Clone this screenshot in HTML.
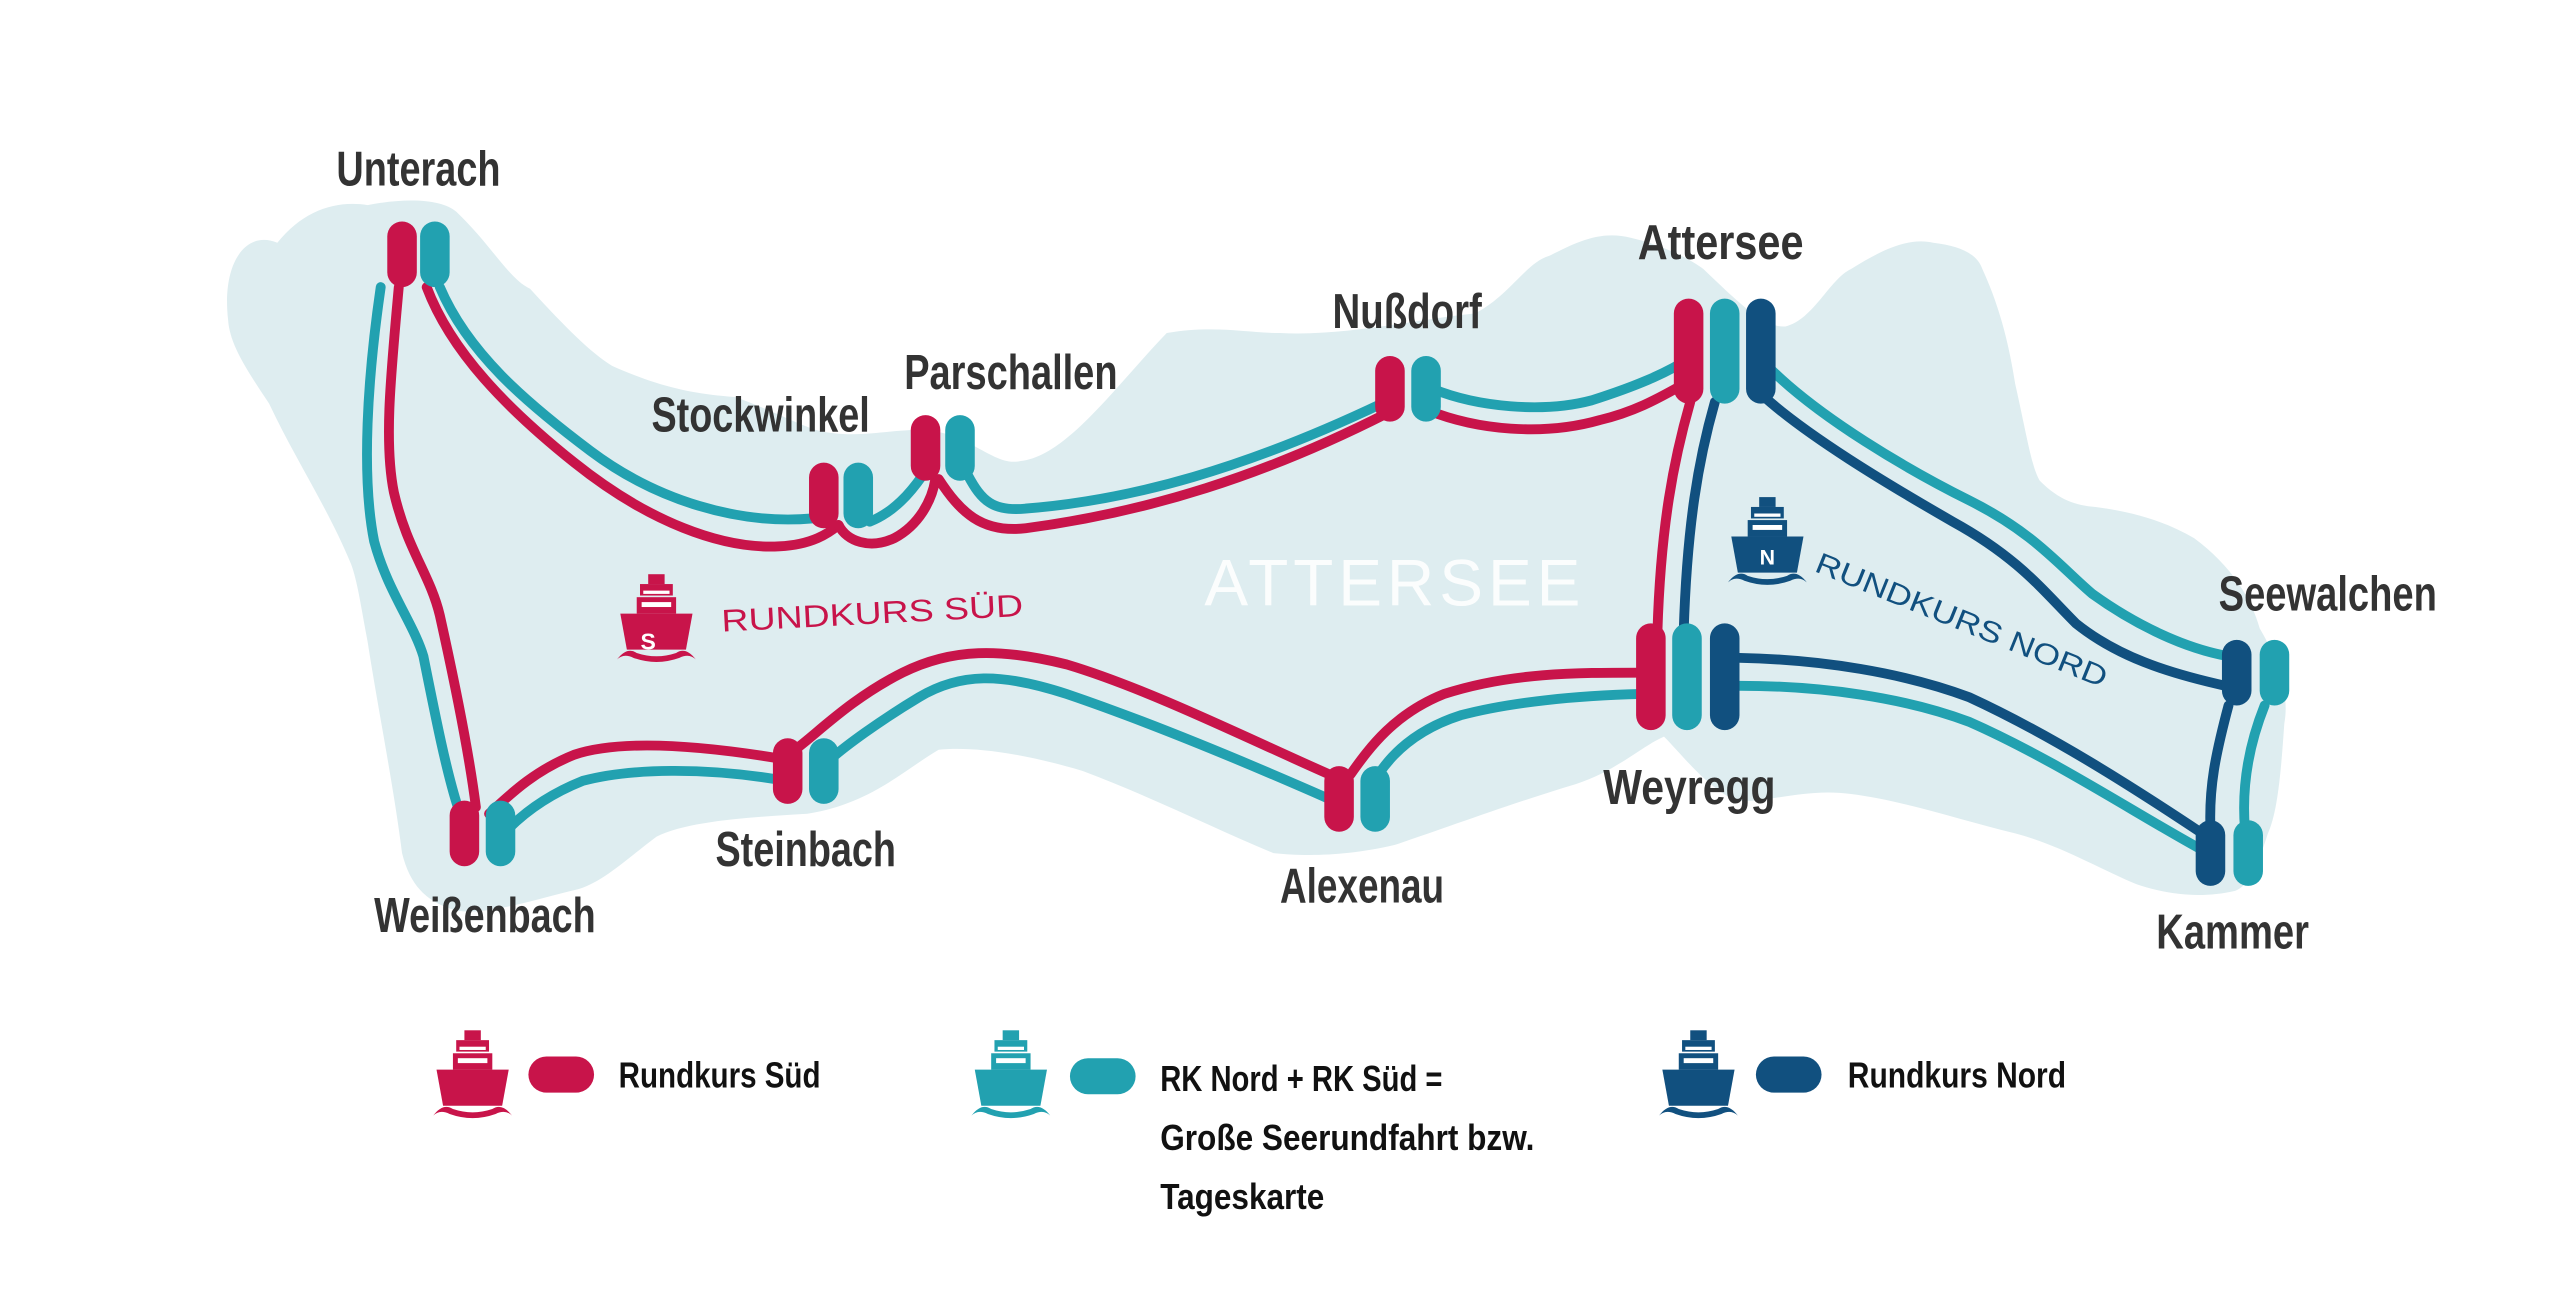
<!DOCTYPE html>
<html><head><meta charset="utf-8"><style>
html,body{margin:0;padding:0;background:#fff;}
svg{display:block;}
.lb{font-family:"Liberation Sans Narrow","Liberation Sans",sans-serif;font-weight:bold;fill:#333;font-size:30px;}
.lg{font-family:"Liberation Sans Narrow","Liberation Sans",sans-serif;font-weight:bold;fill:#111;font-size:22px;}
</style></head><body>
<svg width="2560" height="1301" viewBox="0 0 1560 793" preserveAspectRatio="none" xmlns="http://www.w3.org/2000/svg">
<defs>
<g id="ship">
<rect x="-5" y="-30" width="10" height="6"/>
<rect x="-10" y="-24" width="20" height="7"/>
<rect x="-8" y="-20" width="16" height="2" fill="#fff"/>
<rect x="-12" y="-16" width="24" height="10"/>
<rect x="-9" y="-13" width="18" height="3" fill="#fff"/>
<path d="M-22,-6 L22,-6 L18,16 L-18,16 Z"/>
<path d="M-24,22 Q-18,14 -12,18 Q0,22 12,18 Q18,14 24,22 Q20,18 14,21 Q0,26 -14,21 Q-20,18 -24,22 Z"/>
</g>
</defs>
<!-- lake -->
<path fill="#deedf0" d="M139,195 C135,160 150,140 169,148 C185,128 205,122 224,125 C250,120 270,122 278,129 C300,150 310,170 323,176 C345,200 360,215 373,223 C400,235 420,240 448,242 C470,250 485,258 497,262 C520,268 540,262 560,262 C590,262 605,285 622,281 C650,278 680,235 711,203 C740,198 760,203 780,203 C820,205 860,195 899,191 C920,180 930,160 944,156 C960,148 975,140 994,145 C1015,150 1030,158 1038,164 C1060,185 1075,200 1088,199 C1105,195 1115,170 1128,164 C1150,150 1165,145 1178,148 C1195,150 1205,155 1208,164 C1220,190 1225,215 1228,234 C1235,265 1238,285 1243,293 C1255,305 1265,308 1277,309 C1300,312 1320,318 1337,328 C1360,345 1372,365 1377,383 C1390,405 1395,425 1392,441 C1390,470 1388,495 1382,508 C1375,530 1370,540 1362,543 C1340,548 1320,545 1302,539 C1280,530 1255,515 1228,508 C1195,500 1160,488 1128,484 C1100,480 1075,490 1058,488 C1040,480 1025,460 1014,449 C1000,455 985,470 960,478 C920,490 880,505 850,515 C820,522 795,522 776,520 C740,505 700,485 660,470 C620,458 590,455 572,457 C550,470 530,490 492,496 C460,498 420,500 400,510 C380,525 365,540 348,543 C320,550 295,558 278,555 C260,550 250,540 245,520 C240,480 230,430 224,391 C220,370 218,355 214,344 C200,310 180,280 164,246 C150,225 140,210 139,195 Z"/>
<text x="850" y="369" text-anchor="middle" fill="#fff" font-family="Liberation Sans,sans-serif" font-size="40" letter-spacing="3" opacity="0.9">ATTERSEE</text>
<g fill="none" stroke-width="6" stroke-linecap="round">
<!-- Unterach - Weissenbach -->
<path stroke="#c8144a" d="M243,175 C238,230 234,270 240,300 C248,335 262,350 268,375 C278,420 286,460 290,492"/>
<path stroke="#22a1b0" d="M232,175 C224,230 220,290 228,330 C236,360 252,380 258,400 C266,440 272,470 279,492"/>
<!-- Unterach - Stockwinkel -->
<path stroke="#22a1b0" d="M268,175 C285,215 320,245 360,275 C400,305 450,320 495,316"/>
<path stroke="#c8144a" d="M260,175 C275,215 310,250 350,282 C395,318 440,335 475,333 C495,332 505,325 511,320"/>
<!-- Stockwinkel - Parschallen -->
<path stroke="#22a1b0" d="M530,318 C545,312 555,300 562,290"/>
<path stroke="#c8144a" d="M511,320 C516,330 530,335 545,328 C560,320 568,305 570,292"/>
<!-- Parschallen - Nussdorf -->
<path stroke="#22a1b0" d="M590,290 C598,305 605,312 625,310 C690,305 760,285 842,246"/>
<path stroke="#c8144a" d="M572,292 C585,312 598,325 625,322 C700,312 770,290 845,252"/>
<!-- Nussdorf - Attersee -->
<path stroke="#22a1b0" d="M873,237 C900,248 940,252 970,244 C995,236 1015,228 1030,218"/>
<path stroke="#c8144a" d="M870,250 C900,262 940,266 975,256 C1000,250 1015,240 1030,232"/>
<!-- Attersee - Weyregg -->
<path stroke="#c8144a" d="M1030,245 C1020,280 1012,320 1010,385"/>
<path stroke="#11507f" d="M1045,245 C1035,280 1028,320 1026,385"/>
<!-- Attersee - Seewalchen -->
<path stroke="#22a1b0" d="M1080,226 C1110,255 1160,285 1200,305 C1240,325 1255,345 1275,362 C1300,380 1330,395 1358,400"/>
<path stroke="#11507f" d="M1073,240 C1100,265 1150,295 1190,318 C1230,340 1245,360 1265,380 C1290,400 1320,410 1356,418"/>
<!-- Seewalchen - Kammer -->
<path stroke="#11507f" d="M1358,430 C1350,460 1346,480 1347,505"/>
<path stroke="#22a1b0" d="M1380,430 C1370,455 1366,480 1368,505"/>
<!-- Weyregg - Kammer -->
<path stroke="#11507f" d="M1060,401 C1110,402 1160,410 1200,425 C1250,448 1300,480 1342,508"/>
<path stroke="#22a1b0" d="M1060,418 C1110,418 1160,425 1200,440 C1250,462 1300,495 1340,517"/>
<!-- Weyregg - Alexenau -->
<path stroke="#c8144a" d="M1000,410 C960,410 920,410 880,423 C850,435 835,455 823,472"/>
<path stroke="#22a1b0" d="M1000,423 C960,424 920,428 890,436 C862,445 848,460 840,472"/>
<!-- Alexenau - Steinbach -->
<path stroke="#c8144a" d="M810,472 C760,450 700,420 650,405 C610,395 580,395 550,410 C520,425 500,445 487,455"/>
<path stroke="#22a1b0" d="M810,487 C760,465 700,440 650,423 C610,410 585,410 560,425 C535,440 515,455 507,462"/>
<!-- Steinbach - Weissenbach -->
<path stroke="#c8144a" d="M473,462 C430,455 380,450 350,460 C325,470 310,485 298,496"/>
<path stroke="#22a1b0" d="M473,475 C430,468 385,468 355,476 C335,484 320,495 310,505"/>
</g>
<!-- pills -->
<g>
<rect x="236" y="135" width="18" height="40" rx="9" fill="#c8144a"/><rect x="256" y="135" width="18" height="40" rx="9" fill="#22a1b0"/>
<rect x="493" y="282" width="18" height="40" rx="9" fill="#c8144a"/><rect x="514" y="282" width="18" height="40" rx="9" fill="#22a1b0"/>
<rect x="555" y="253" width="18" height="40" rx="9" fill="#c8144a"/><rect x="576" y="253" width="18" height="40" rx="9" fill="#22a1b0"/>
<rect x="838" y="217" width="18" height="40" rx="9" fill="#c8144a"/><rect x="860" y="217" width="18" height="40" rx="9" fill="#22a1b0"/>
<rect x="1020" y="182" width="18" height="64" rx="9" fill="#c8144a"/><rect x="1042" y="182" width="18" height="64" rx="9" fill="#22a1b0"/><rect x="1064" y="182" width="18" height="64" rx="9" fill="#11507f"/>
<rect x="997" y="380" width="18" height="65" rx="9" fill="#c8144a"/><rect x="1019" y="380" width="18" height="65" rx="9" fill="#22a1b0"/><rect x="1042" y="380" width="18" height="65" rx="9" fill="#11507f"/>
<rect x="807" y="467" width="18" height="40" rx="9" fill="#c8144a"/><rect x="829" y="467" width="18" height="40" rx="9" fill="#22a1b0"/>
<rect x="471" y="450" width="18" height="40" rx="9" fill="#c8144a"/><rect x="493" y="450" width="18" height="40" rx="9" fill="#22a1b0"/>
<rect x="274" y="488" width="18" height="40" rx="9" fill="#c8144a"/><rect x="296" y="488" width="18" height="40" rx="9" fill="#22a1b0"/>
<rect x="1354" y="390" width="18" height="40" rx="9" fill="#11507f"/><rect x="1377" y="390" width="18" height="40" rx="9" fill="#22a1b0"/>
<rect x="1338" y="500" width="18" height="40" rx="9" fill="#11507f"/><rect x="1361" y="500" width="18" height="40" rx="9" fill="#22a1b0"/>
</g>
<!-- labels -->
<g class="lb">
<text x="205" y="113" textLength="100" lengthAdjust="spacingAndGlyphs">Unterach</text>
<text x="397" y="263" textLength="133" lengthAdjust="spacingAndGlyphs">Stockwinkel</text>
<text x="551" y="237" textLength="130" lengthAdjust="spacingAndGlyphs">Parschallen</text>
<text x="812" y="200" textLength="91" lengthAdjust="spacingAndGlyphs">Nußdorf</text>
<text x="998" y="158" textLength="101" lengthAdjust="spacingAndGlyphs">Attersee</text>
<text x="977" y="490" textLength="105" lengthAdjust="spacingAndGlyphs">Weyregg</text>
<text x="780" y="550" textLength="100" lengthAdjust="spacingAndGlyphs">Alexenau</text>
<text x="436" y="528" textLength="110" lengthAdjust="spacingAndGlyphs">Steinbach</text>
<text x="228" y="568" textLength="135" lengthAdjust="spacingAndGlyphs">Weißenbach</text>
<text x="1352" y="372" textLength="133" lengthAdjust="spacingAndGlyphs">Seewalchen</text>
<text x="1314" y="578" textLength="93" lengthAdjust="spacingAndGlyphs">Kammer</text>
</g>
<!-- route labels -->
<use href="#ship" x="400" y="380" fill="#c8144a"/>
<text x="395" y="396" text-anchor="middle" fill="#fff" font-family="Liberation Sans,sans-serif" font-weight="bold" font-size="14">S</text>
<text x="440" y="385" fill="#c8144a" font-family="Liberation Sans,sans-serif" font-size="19" transform="rotate(-3 440 385)" textLength="184" lengthAdjust="spacingAndGlyphs">RUNDKURS SÜD</text>
<use href="#ship" x="1077" y="333" fill="#11507f"/>
<text x="1077" y="344" text-anchor="middle" fill="#fff" font-family="Liberation Sans,sans-serif" font-weight="bold" font-size="13">N</text>
<text x="1105" y="348" fill="#11507f" font-family="Liberation Sans,sans-serif" font-size="18" transform="rotate(22 1105 348)" textLength="190" lengthAdjust="spacingAndGlyphs">RUNDKURS NORD</text>
<!-- legend -->
<use href="#ship" x="288" y="658" fill="#c8144a"/>
<rect x="322" y="644" width="40" height="22" rx="11" fill="#c8144a"/>
<text class="lg" x="377" y="663" textLength="123" lengthAdjust="spacingAndGlyphs">Rundkurs Süd</text>
<use href="#ship" x="616" y="658" fill="#22a1b0"/>
<rect x="652" y="645" width="40" height="22" rx="11" fill="#22a1b0"/>
<text class="lg" x="707" y="665" textLength="172" lengthAdjust="spacingAndGlyphs">RK Nord + RK Süd =</text>
<text class="lg" x="707" y="701" textLength="228" lengthAdjust="spacingAndGlyphs">Große Seerundfahrt  bzw.</text>
<text class="lg" x="707" y="737" textLength="100" lengthAdjust="spacingAndGlyphs">Tageskarte</text>
<use href="#ship" x="1035" y="658" fill="#11507f"/>
<rect x="1070" y="644" width="40" height="22" rx="11" fill="#11507f"/>
<text class="lg" x="1126" y="663" textLength="133" lengthAdjust="spacingAndGlyphs">Rundkurs Nord</text>
</svg>
</body></html>
